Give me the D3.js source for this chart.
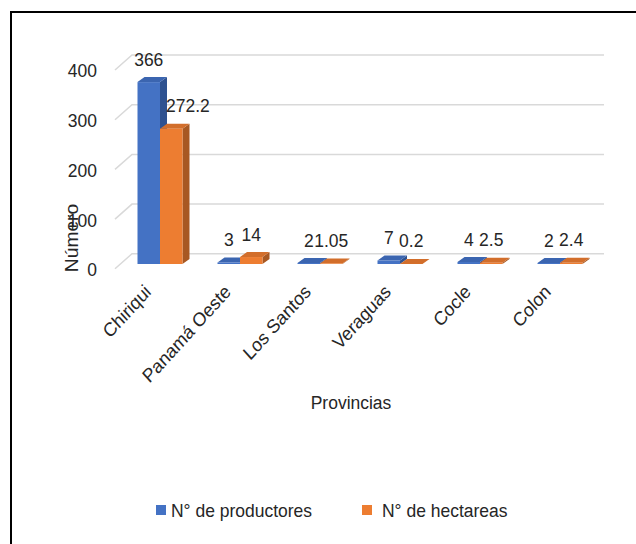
<!DOCTYPE html>
<html>
<head>
<meta charset="utf-8">
<script src="https://cdn.jsdelivr.net/npm/d3@7"></script>
<style>
  html, body { margin: 0; padding: 0; background: #ffffff; }
  svg { display: block; font-family: "Liberation Sans", Arial, sans-serif; }
</style>
</head>
<body>
<svg id="chart" width="636" height="544"></svg>
<script>
// Productores y hectáreas por provincia
const categories = ["Chiriqui", "Panamá Oeste", "Los Santos", "Veraguas", "Cocle", "Colon"];
const productores = [366, 3, 2, 7, 4, 2];
const hectareas = [272.2, 14, 1.05, 0.2, 2.5, 2.4];
const seriesNames = ["N° de productores", "N° de hectareas"];
const yTicks = [0, 100, 200, 300, 400];

const colors = [
  { front: "#4472C4", top: "#3B65B0", side: "#2F5290" },
  { front: "#ED7D31", top: "#D26E2B", side: "#A85822" }
];

const svg = d3.select("#chart");
const textColor = "#262626";
const fontSize = 17.5;
const stretchY = 1.1; // glyphs are drawn slightly tall

// text helper: anchored at (x, y), optional rotation, tall glyphs
function label(parent, x, y, str, opts = {}) {
  const rot = opts.rotate ? ` rotate(${opts.rotate})` : "";
  const t = parent.append("text")
    .attr("transform", `translate(${x},${y}) scale(1,${stretchY})${rot}`)
    .attr("text-anchor", opts.anchor || "start")
    .attr("font-size", fontSize)
    .attr("fill", textColor)
    .text(str);
  if (opts.dy) t.attr("dy", opts.dy);
  return t;
}

// outer frame (top and left edges)
svg.append("path")
  .attr("d", "M11,544 L11,12 L636,12")
  .attr("fill", "none")
  .attr("stroke", "#000")
  .attr("stroke-width", 2);

// 3D projection: floor depth and bar depth
const floorDepth = { dx: 17, dy: -15 };
const barDepth = { dx: 7, dy: -5 };

// value axis on the front plane
const yFront = d3.scaleLinear().domain([0, 400]).range([268.8, 70]);
// bars sit a little behind the front plane
const barBase = 264;
const yBar = d3.scaleLinear().domain([0, 400]).range([barBase, barBase - (yFront(0) - yFront(400))]);

const x = d3.scaleBand().domain(categories).range([120, 600]);
const barW = 22.5;

const axisLeftX = 115;
const backRight = 604;

// gridlines: diagonal on the side wall, horizontal on the back wall
const grid = svg.append("g");
yTicks.forEach(t => {
  const fy = yFront(t);
  const by = fy + floorDepth.dy;
  grid.append("path")
    .attr("d", `M${axisLeftX},${fy} L${axisLeftX + floorDepth.dx},${by} L${backRight},${by}`)
    .attr("fill", "none")
    .attr("stroke", "#d9d9d9")
    .attr("stroke-width", 1.5);
});

// value axis labels
const yAxis = d3.axisLeft(yFront).tickValues(yTicks).tickSize(0).tickPadding(0);
const yG = svg.append("g").attr("transform", `translate(97,0)`).call(yAxis);
yG.select(".domain").remove();
yG.selectAll(".tick").each(function () {
  const tick = d3.select(this);
  const txt = tick.select("text");
  const s = txt.text();
  txt.remove();
  label(tick, 0, 0, s, { anchor: "end", dy: "0.36em" });
});

// bars
const series = [productores, hectareas];
const barsG = svg.append("g");
const labelG = svg.append("g");

function barX(ci, si) {
  const c = x(categories[ci]) + x.bandwidth() / 2;
  return si === 0 ? c - barW : c;
}

categories.forEach((cat, ci) => {
  series.forEach((vals, si) => {
    const v = vals[ci];
    const x0 = barX(ci, si);
    const top = yBar(v);
    const bottom = yBar(0);
    const c = colors[si];
    const g = barsG.append("g");
    // side face
    g.append("path")
      .attr("d", `M${x0 + barW},${top} L${x0 + barW + barDepth.dx},${top + barDepth.dy} L${x0 + barW + barDepth.dx},${bottom + barDepth.dy} L${x0 + barW},${bottom} Z`)
      .attr("fill", c.side);
    // top face
    g.append("path")
      .attr("d", `M${x0},${top} L${x0 + barDepth.dx},${top + barDepth.dy} L${x0 + barW + barDepth.dx},${top + barDepth.dy} L${x0 + barW},${top} Z`)
      .attr("fill", c.top);
    // front face
    g.append("rect")
      .attr("x", x0)
      .attr("y", top)
      .attr("width", barW)
      .attr("height", Math.max(0, bottom - top))
      .attr("fill", c.front);
  });
});

// data labels (above the back edge of each bar top)
categories.forEach((cat, ci) => {
  series.forEach((vals, si) => {
    const v = vals[ci];
    const x0 = barX(ci, si);
    const baseline = yBar(v) + barDepth.dy - 11.5;
    let t = label(labelG, x0 + barW / 2, baseline, String(v), { anchor: "middle" });
    // keep a label clear of a taller neighbouring bar on its left
    if (si === 1) {
      const bb = t.node().getBoundingClientRect();
      const leftX = barX(ci, 0);
      const leftTop = yBar(productores[ci]) + barDepth.dy;
      const leftEdge = leftX + barW + barDepth.dx;
      if (bb.top > leftTop && bb.left < leftEdge) {
        t.remove();
        label(labelG, leftEdge - 1, baseline, String(v), { anchor: "start" });
      }
    }
  });
});

// category labels, rotated
const catG = svg.append("g");
categories.forEach(cat => {
  const cx = x(cat) + x.bandwidth() / 2;
  label(catG, cx - 8, 293, cat, { anchor: "end", rotate: -45 });
});

// axis titles
label(svg, 351, 409, "Provincias", { anchor: "middle" });
label(svg, 78, 238, "Número", { anchor: "middle", rotate: -90 });

// legend
const legendItems = [
  { x: 156, textX: 171 },
  { x: 362, textX: 382 }
];
const legend = svg.append("g");
seriesNames.forEach((name, i) => {
  legend.append("rect")
    .attr("x", legendItems[i].x)
    .attr("y", 505)
    .attr("width", 10)
    .attr("height", 10)
    .attr("fill", colors[i].front);
  label(legend, legendItems[i].textX, 517, name);
});
</script>
</body>
</html>
